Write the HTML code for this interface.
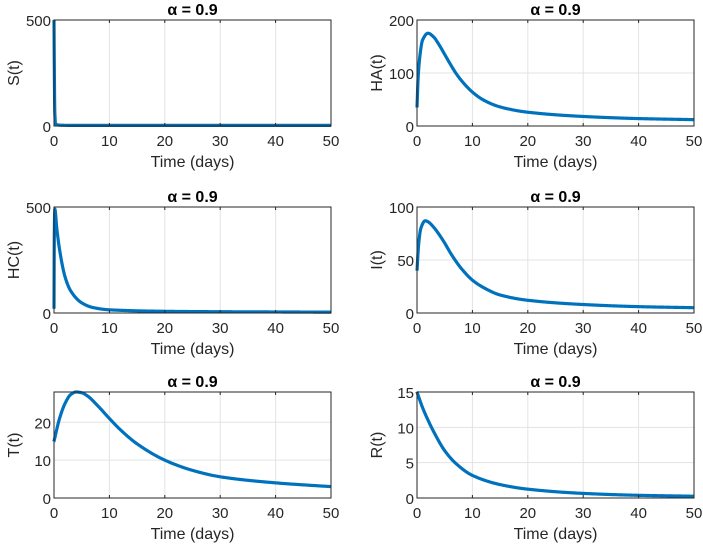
<!DOCTYPE html>
<html><head><meta charset="utf-8"><style>
body{margin:0;background:#fff;width:703px;height:549px;overflow:hidden}
svg text{font-family:"Liberation Sans",sans-serif}
</style></head><body>
<svg id="c" width="703" height="549"></svg>
<script>
const xTicks=[0,10,20,30,40,50];
const sT=[0,0.05,0.15,0.3,1,3,10,20,30,40,50];
const sV=[500,300,60,10,4,3,3,3,3,3,3];
const haT=[0,0.2,0.5,1,2,3,4,5,6,7,8,10,12,15,20,30,40,50];
const haV=[35,90,130,162,175,168,153,135,117,100,86,64,49,36,26,18,14,12];
const hcT=[0,0.05,0.15,0.5,1,2,3,5,7,10,20,30,40,50];
const hcV=[20,350,490,400,300,170,105,48,26,15,8,6,5,4];
const iT=[0,0.3,0.7,1.5,2,3,4,5,6,7,8,10,12,15,20,30,40,50];
const iV=[40,65,80,87,86,81,74,66,57,49,42,31,24,17,12,8,6,5];
const tT=[0,1,2,3,4,5,6,8,10,12,15,20,25,30,40,50];
const tV=[15,21,25,27.3,28,27.8,27,24.2,21,18,14.3,10,7.3,5.6,4,3];
const rT=[0,1,2,3,5,7,10,15,20,30,40,50];
const rV=[15,12.8,11,9.4,6.7,4.9,3.2,1.9,1.25,0.65,0.38,0.25];
const panels=[
 {n:'s',lab:'S(t)',t:sT,v:sV,ymax:500,yt:[0,500],x:54,y:20},
 {n:'ha',lab:'HA(t)',t:haT,v:haV,ymax:200,yt:[0,100,200],x:417,y:20},
 {n:'hc',lab:'HC(t)',t:hcT,v:hcV,ymax:500,yt:[0,500],x:54,y:207},
 {n:'i',lab:'I(t)',t:iT,v:iV,ymax:100,yt:[0,50,100],x:417,y:207},
 {n:'t',lab:'T(t)',t:tT,v:tV,ymax:28,yt:[0,10,20],x:54,y:392},
 {n:'r',lab:'R(t)',t:rT,v:rV,ymax:15,yt:[0,5,10,15],x:417,y:392}];
const W=277,H=106,NS='http://www.w3.org/2000/svg',svg=document.getElementById('c');
function mk(tag,a,p){const e=document.createElementNS(NS,tag);for(const k in a)e.setAttribute(k,a[k]);(p||svg).appendChild(e);return e;}
function mono(xs,ys){const n=xs.length,d=[],m=[];
 for(let i=0;i<n-1;i++)d.push((ys[i+1]-ys[i])/(xs[i+1]-xs[i]));
 m[0]=d[0];m[n-1]=d[n-2];
 for(let i=1;i<n-1;i++){if(d[i-1]*d[i]<=0)m[i]=0;else{const h0=xs[i]-xs[i-1],h1=xs[i+1]-xs[i];const w1=2*h1+h0,w2=h1+2*h0;m[i]=(w1+w2)/(w1/d[i-1]+w2/d[i]);}}
 return x=>{let i=0;while(i<n-2&&x>xs[i+1])i++;const h=xs[i+1]-xs[i],s=(x-xs[i])/h;
  const h00=2*s*s*s-3*s*s+1,h10=s*s*s-2*s*s+s,h01=-2*s*s*s+3*s*s,h11=s*s*s-s*s;
  return h00*ys[i]+h10*h*m[i]+h01*ys[i+1]+h11*h*m[i+1];};}
panels.forEach(p=>{
 const g=mk('g',{});
 
 
 const sx=t=>p.x+t/50*W, sy=v=>p.y+H-v/p.ymax*H;
 mk('rect',{x:p.x,y:p.y,width:W,height:H,fill:'#fff'},g);
 xTicks.forEach(t=>{mk('line',{x1:sx(t),x2:sx(t),y1:p.y,y2:p.y+H,stroke:'#e3e3e3'},g);
  const tx=mk('text',{x:sx(t),y:p.y+H+20,'text-anchor':'middle','font-size':15,fill:'#262626'},g);tx.textContent=t;
  });
 p.yt.forEach(v=>{mk('line',{x1:p.x,x2:p.x+W,y1:sy(v),y2:sy(v),stroke:'#e3e3e3'},g);
  const tx=mk('text',{x:p.x-3,y:sy(v)+6,'text-anchor':'end','font-size':15,fill:'#262626'},g);tx.textContent=v;
  });
 const f=mono(p.t,p.v);
 const ts=new Set(p.t);for(let k=0;k<=600;k++){const t=50*Math.pow(k/600,2);ts.add(t);}
 const arr=[...ts].sort((a,b)=>a-b);
 const d='M'+arr.map(t=>sx(t).toFixed(2)+','+sy(f(t)).toFixed(2)).join(' L');
 const cp=mk('clipPath',{id:'cl'+p.n},g);mk('rect',{x:p.x-2,y:p.y-2,width:W+4,height:H+4},cp);
 const ln=mk('path',{d:d,fill:'none',stroke:'#0072BD','stroke-width':3.2,'stroke-linejoin':'round','clip-path':'url(#cl'+p.n+')'},g);
 
 mk('rect',{x:p.x,y:p.y,width:W,height:H,fill:'none',stroke:'#262626','stroke-width':1},g);
 xTicks.forEach(t=>{mk('line',{x1:sx(t),x2:sx(t),y1:p.y+H,y2:p.y+H-3,stroke:'#262626'},g);mk('line',{x1:sx(t),x2:sx(t),y1:p.y,y2:p.y+3,stroke:'#262626'},g);});
 const tl=mk('text',{x:p.x+W/2,y:p.y-5,'text-anchor':'middle','font-size':16,'font-weight':'bold',fill:'#000'},g);
 tl.textContent='\u03B1 = 0.9';
 const xl=mk('text',{x:p.x+W/2,y:p.y+H+41,'text-anchor':'middle','font-size':16,fill:'#262626'},g);
 xl.textContent='Time (days)';
 const yl=mk('text',{x:0,y:0,'text-anchor':'middle','font-size':16,fill:'#262626',transform:'translate('+(p.x-35)+','+(p.y+H/2)+') rotate(-90)'},g);
 yl.textContent=p.lab;
});
</script>
</body></html>
